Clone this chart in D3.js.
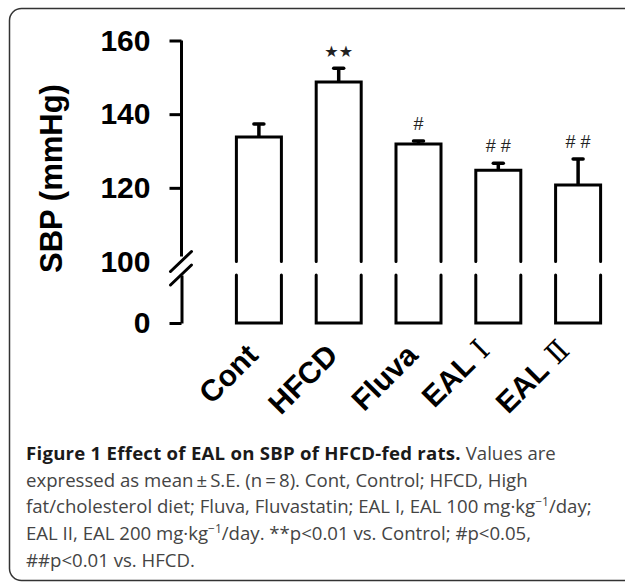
<!DOCTYPE html>
<html>
<head>
<meta charset='utf-8'>
<title>SBP of HFCD-fed rats</title>
<script src='https://d3js.org/d3.v7.min.js'></script>
<style>
  body { margin: 0; background: #fff; }
  svg { display: block; }
</style>
</head>
<body>
<div id="container"></div>
<script>

// ******* Data *******
var groups = ["Cont", "HFCD", "Fluva", "EAL Ⅰ", "EAL Ⅱ"];
var means = [133.8, 148.7, 131.9, 124.8, 120.8];
var sems = [3.5, 3.8, 0.8, 1.9, 7.0];
var marks = ["", "★★", "#", "# #", "# #"];
var upperTicks = [100, 120, 140, 160];
var lowerTicks = [0];
var breakValue = 100;

// caption lines: [text, bold?] pieces, "^" marks a superscript
var captionLines = [
  [["Figure 1 Effect of EAL on SBP of HFCD-fed rats.", true], [" Values are", false]],
  [["expressed as mean\u2009±\u2009S.E. (n\u2009=\u20098). Cont, Control; HFCD, High", false]],
  [["fat/cholesterol diet; Fluva, Fluvastatin; EAL I, EAL 100 mg·kg", false], ["^−1", false], ["/day;", false]],
  [["EAL II, EAL 200 mg·kg", false], ["^−1", false], ["/day. **p<0.01 vs. Control; #p<0.05,", false]],
  [["##p<0.01 vs. HFCD.", false]]
];

// ******* Constants *******
const width = 625,
      height = 583,
      axisX = 181.5;

var svg = d3.select("#container").append("svg")
  .attr("width", width)
  .attr("height", height);

svg.append("rect")
  .attr("width", width).attr("height", height)
  .attr("fill", "#fff");

// frame round the figure (right side runs off the page)
svg.append("rect")
  .attr("x", 9.5).attr("y", 8.5)
  .attr("width", 650).attr("height", 572)
  .attr("rx", 12)
  .attr("fill", "none")
  .attr("stroke", "#333")
  .attr("stroke-width", 1.5);

// ******* Scales *******
var x = d3.scaleBand()
  .domain(groups)
  .range([201.6, 635.4])
  .padding(0.436);

var yUp = d3.scaleLinear().domain([breakValue, 160]).range([261.5, 40.5]);
var yLow = d3.scaleLinear().domain([0, breakValue]).range([323, 275]);

var chart = svg.append("g");

// ******* Axes *******
var upAxis = chart.append("g")
  .attr("transform", `translate(${axisX}, 0)`)
  .call(d3.axisLeft(yUp).tickValues(upperTicks).tickSize(12).tickSizeOuter(0).tickPadding(19));

var lowAxis = chart.append("g")
  .attr("transform", `translate(${axisX}, 0)`)
  .call(d3.axisLeft(yLow).tickValues(lowerTicks).tickSize(12).tickSizeOuter(0).tickPadding(19));

[upAxis, lowAxis].forEach(function(a) {
  a.selectAll("line").attr("stroke", "#000").attr("stroke-width", 3);
  a.selectAll("text")
    .attr("fill", "#000")
    .style("font-family", "'Liberation Sans', Arial, sans-serif")
    .style("font-weight", "bold")
    .style("font-size", "30px");
});
upAxis.select(".domain").remove();
lowAxis.select(".domain").attr("stroke", "#000").attr("stroke-width", 3);
// the break value has the slash instead of a tick
upAxis.selectAll(".tick").filter(function(d) { return d === breakValue; })
  .select("line").remove();

chart.append("line")
  .attr("x1", axisX).attr("x2", axisX)
  .attr("y1", yUp(160)).attr("y2", yUp(breakValue) - 5)
  .attr("stroke", "#000").attr("stroke-width", 3);

// axis break slashes
[yUp(breakValue), yLow(breakValue)].forEach(function(yy) {
  chart.append("line")
    .attr("x1", axisX - 11).attr("y1", yy + 10)
    .attr("x2", axisX + 10).attr("y2", yy - 10)
    .attr("stroke", "#000").attr("stroke-width", 3)
    .attr("stroke-linecap", "round");
});

// ******* Bars *******
var rows = groups.map(function(g, i) {
  return {g: g, mean: means[i], sem: sems[i], mark: marks[i]};
});

var bars = chart.selectAll(".bar").data(rows).enter().append("g").attr("class", "bar");

bars.append("path")
  .attr("d", function(d) {
    var l = x(d.g), r = x(d.g) + x.bandwidth();
    return `M${l},${yUp(breakValue)}V${yUp(d.mean)}H${r}V${yUp(breakValue)}`;
  });

bars.append("path")
  .attr("d", function(d) {
    var l = x(d.g), r = x(d.g) + x.bandwidth();
    return `M${l},${yLow(breakValue)}V${yLow(0)}H${r}V${yLow(breakValue)}`;
  });

bars.selectAll("path")
  .attr("fill", "none")
  .attr("stroke", "#000")
  .attr("stroke-width", 3)
  .attr("stroke-linecap", "round");

// error bars (upper side only)
bars.append("line")
  .attr("x1", function(d) { return x(d.g) + x.bandwidth() / 2; })
  .attr("x2", function(d) { return x(d.g) + x.bandwidth() / 2; })
  .attr("y1", function(d) { return yUp(d.mean); })
  .attr("y2", function(d) { return yUp(d.mean + d.sem); });

bars.append("line")
  .attr("x1", function(d) { return x(d.g) + x.bandwidth() / 2 - 5; })
  .attr("x2", function(d) { return x(d.g) + x.bandwidth() / 2 + 5; })
  .attr("y1", function(d) { return yUp(d.mean + d.sem); })
  .attr("y2", function(d) { return yUp(d.mean + d.sem); })
  .attr("stroke-linecap", "round");

bars.selectAll("line")
  .attr("stroke", "#000")
  .attr("stroke-width", 3.5);

// significance marks
bars.append("text")
  .attr("x", function(d) { return x(d.g) + x.bandwidth() / 2; })
  .attr("y", function(d) { return yUp(d.mean + d.sem) - 17; })
  .attr("text-anchor", "middle")
  .attr("dominant-baseline", "central")
  .attr("fill", "#222")
  .style("font-family", function(d) { return d.mark.indexOf("★") >= 0 ? "'DejaVu Sans', sans-serif" : "'Liberation Sans', Arial, sans-serif"; })
  .style("font-size", function(d) { return d.mark.indexOf("★") >= 0 ? "16px" : "18px"; })
  .text(function(d) { return d.mark; });

// ******* Category labels *******
var labels = chart.selectAll(".xlabel").data(rows).enter().append("text")
  .attr("class", "xlabel")
  .attr("transform", function(d) {
    var roman = d.g.indexOf(" ") > 0;
    return `translate(${x(d.g) + x.bandwidth() / 2 + (roman ? -7 : 1)}, ${roman ? 352 : 357}) rotate(-45)`;
  })
  .attr("text-anchor", "end")
  .attr("fill", "#000")
  .style("font-family", "'Liberation Sans', Arial, sans-serif")
  .style("font-weight", "bold")
  .style("font-size", "30px");

labels.each(function(d) {
  var parts = d.g.split(" ");
  var t = d3.select(this);
  t.append("tspan").text(parts[0]);
  if (parts.length > 1) {
    t.append("tspan")
      .style("font-family", "'DejaVu Serif', 'Liberation Serif', serif")
      .style("font-weight", "normal")
      .style("font-size", "29px")
      .text(" " + parts[1]);
  }
});

// y axis title
svg.append("text")
  .attr("transform", "translate(62, 178.5) rotate(-90)")
  .attr("text-anchor", "middle")
  .attr("fill", "#000")
  .style("font-family", "'Liberation Sans', Arial, sans-serif")
  .style("font-weight", "bold")
  .style("font-size", "31px")
  .text("SBP (mmHg)");

// ******* Caption *******
var caption = svg.append("g")
  .style("font-family", "'Open Sans', sans-serif")
  .style("font-size", "18.6px");

captionLines.forEach(function(line, i) {
  var t = caption.append("text")
    .attr("x", 26)
    .attr("y", 460 + i * 26.7);
  var raised = false;
  line.forEach(function(p) {
    var s = p[0];
    var span = t.append("tspan")
      .attr("fill", p[1] ? "#1a1a1a" : "#444")
      .style("font-weight", p[1] ? "bold" : "normal")
      .style("letter-spacing", p[1] ? "0.25px" : null);
    if (s[0] === "^") {
      span.attr("dy", -7).style("font-size", "12px").text(s.slice(1));
      raised = true;
    } else {
      if (raised) { span.attr("dy", 7); raised = false; }
      span.text(s);
    }
  });
});

</script>
</body>
</html>
